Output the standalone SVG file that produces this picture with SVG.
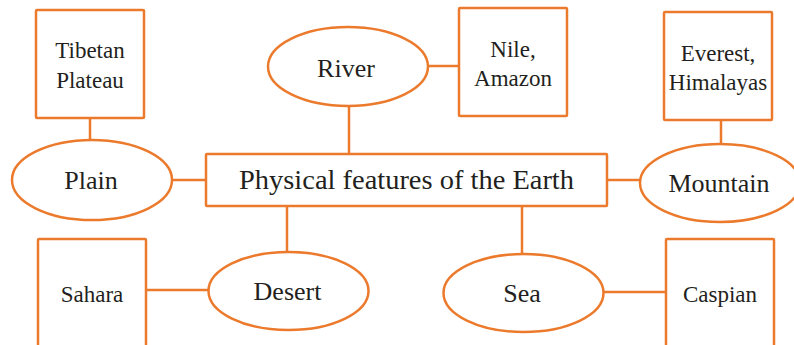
<svg xmlns="http://www.w3.org/2000/svg" width="794" height="345" viewBox="0 0 794 345">
<style>
.s{fill:none;stroke:#EC7A2C;stroke-width:2.5}
.n{fill:#fff;stroke:#EC7A2C;stroke-width:2.5}
text{font-family:"Liberation Serif","DejaVu Serif",serif;fill:#231f20;text-anchor:middle}
.sm{font-size:23px}
.md{font-size:26px}
.lg{font-size:27px}
</style>
<rect width="794" height="345" fill="#fff"/>
<g id="connectors" class="s">
<line x1="90" y1="118" x2="90" y2="141"/>
<line x1="172" y1="180" x2="206" y2="180"/>
<line x1="349" y1="106" x2="349" y2="154"/>
<line x1="428" y1="66" x2="459" y2="66"/>
<line x1="721" y1="120" x2="721" y2="145"/>
<line x1="607" y1="180" x2="640" y2="180"/>
<line x1="287" y1="206" x2="287" y2="252"/>
<line x1="146" y1="290" x2="208" y2="290"/>
<line x1="522" y1="206" x2="522" y2="254"/>
<line x1="604" y1="292" x2="666" y2="292"/>
</g>
<g id="center">
<rect class="n" x="206" y="154" width="401" height="52" rx="1"/>
<text class="lg" x="406.5" y="189" textLength="335" lengthAdjust="spacingAndGlyphs">Physical features of the Earth</text>
</g>
<g id="tibetan">
<rect class="n" x="36" y="10" width="108" height="108" rx="1"/>
<text class="sm" x="90" y="58">Tibetan</text>
<text class="sm" x="90" y="88">Plateau</text>
</g>
<g id="plain">
<ellipse class="n" cx="92" cy="180" rx="80" ry="40"/>
<text class="md" x="91" y="189">Plain</text>
</g>
<g id="river">
<ellipse class="n" cx="348" cy="66.5" rx="80" ry="39.5"/>
<text class="md" x="346" y="77">River</text>
</g>
<g id="nile">
<rect class="n" x="459" y="8" width="108" height="108" rx="1"/>
<text class="sm" x="513" y="57">Nile,</text>
<text class="sm" x="513" y="86">Amazon</text>
</g>
<g id="everest">
<rect class="n" x="664" y="12" width="108" height="108" rx="1"/>
<text class="sm" x="718" y="61">Everest,</text>
<text class="sm" x="718" y="90">Himalayas</text>
</g>
<g id="mountain">
<ellipse class="n" cx="720" cy="183" rx="80" ry="39"/>
<text class="md" x="719" y="192">Mountain</text>
</g>
<g id="desert">
<ellipse class="n" cx="288.5" cy="291" rx="80" ry="39"/>
<text class="md" x="287.5" y="300">Desert</text>
</g>
<g id="sahara">
<rect class="n" x="38" y="239" width="108" height="120" rx="1"/>
<text class="sm" x="92" y="302">Sahara</text>
</g>
<g id="sea">
<ellipse class="n" cx="523.5" cy="293" rx="80" ry="39"/>
<text class="md" x="522" y="302">Sea</text>
</g>
<g id="caspian">
<rect class="n" x="666" y="239" width="108" height="120" rx="1"/>
<text class="sm" x="720" y="302">Caspian</text>
</g>
</svg>
